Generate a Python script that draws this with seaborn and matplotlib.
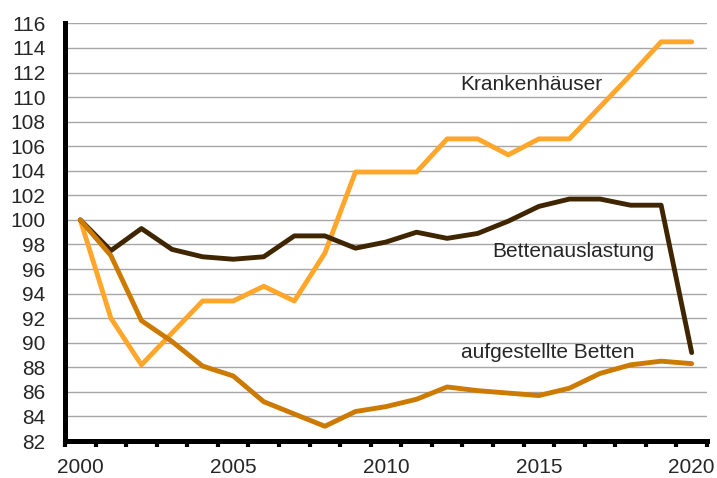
import numpy as np
import seaborn as sns
import matplotlib.pyplot as plt

years = list(range(2000, 2021))

krankenhaeuser = [100.0, 92.0, 88.2, 90.8, 93.4, 93.4, 94.6, 93.4, 97.3, 103.9,
                  103.9, 103.9, 106.6, 106.6, 105.3, 106.6, 106.6, 109.2, 111.8,
                  114.5, 114.5]
bettenauslastung = [100.0, 97.5, 99.3, 97.6, 97.0, 96.8, 97.0, 98.7, 98.7, 97.7,
                    98.2, 99.0, 98.5, 98.9, 99.9, 101.1, 101.7, 101.7, 101.2,
                    101.2, 89.2]
aufgestellte_betten = [100.0, 97.1, 91.8, 90.1, 88.1, 87.3, 85.2, 84.2, 83.2, 84.4,
                       84.8, 85.4, 86.4, 86.1, 85.9, 85.7, 86.3, 87.5, 88.2,
                       88.5, 88.3]

series_labels = ["Krankenhäuser", "Bettenauslastung", "aufgestellte Betten"]
year_labels = [2000, 2005, 2010, 2015, 2020]

c_light = "#FFA62B"
c_dark = "#3F2600"
c_mid = "#CC7A00"

sns.set_theme(style="white")
plt.rcParams['font.family'] = ['Liberation Sans', 'DejaVu Sans']

fig = plt.figure(figsize=(7.17, 4.78), dpi=100)
ax = fig.add_axes([0.0907, 0.0774, 0.8953, 0.8736])

ax.set_ylim(82, 116)
ax.set_yticks(np.arange(82, 117, 2))
ax.grid(axis='y', color='#A6A6A6', lw=1.0)
ax.set_axisbelow(True)

sns.lineplot(ax=ax, x=years, y=krankenhaeuser, color=c_light, lw=3.5)
sns.lineplot(ax=ax, x=years, y=bettenauslastung, color=c_dark, lw=3.5)
sns.lineplot(ax=ax, x=years, y=aufgestellte_betten, color=c_mid, lw=3.5)

ax.set_xlim(years[0] - 0.5, years[-1] + 0.5)
ax.set_xticks(year_labels)
ax.set_xticklabels([str(y) for y in year_labels])
ax.set_xticks([y - 0.5 for y in years] + [years[-1] + 0.5], minor=True)
ax.tick_params(axis='x', which='major', length=0, labelsize=15, pad=12)
ax.tick_params(axis='x', which='minor', length=4, width=3, direction='out',
               color='black', bottom=True)
ax.tick_params(axis='y', which='major', length=0, labelsize=15, pad=14)

for side in ['top', 'right']:
    ax.spines[side].set_visible(False)
for side in ['left', 'bottom']:
    ax.spines[side].set_color('black')
    ax.spines[side].set_linewidth(3.6)

ax.text(2014.74, 111.0, series_labels[0], fontsize=15, ha='center', va='center')
ax.text(2016.12, 97.4, series_labels[1], fontsize=15, ha='center', va='center')
ax.text(2015.28, 89.2, series_labels[2], fontsize=15, ha='center', va='center')

ax.set_xlabel('')
ax.set_ylabel('')

fig.savefig('out.png', dpi=100)
